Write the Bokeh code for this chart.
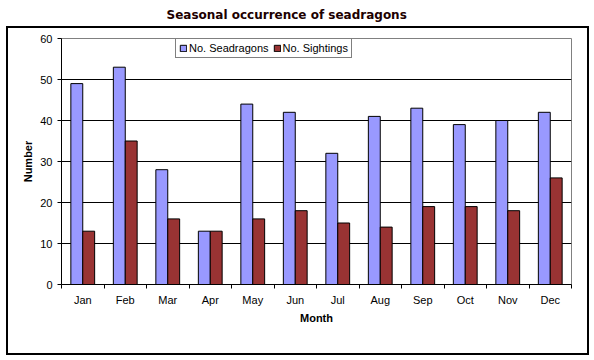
import numpy as np
from bokeh.plotting import figure
from bokeh.models import FixedTicker, Range1d, Legend, LegendItem
from bokeh.embed import file_html
from bokeh.resources import INLINE

months = ["Jan", "Feb", "Mar", "Apr", "May", "Jun", "Jul", "Aug", "Sep", "Oct", "Nov", "Dec"]
seadragons = [49, 53, 28, 13, 44, 42, 32, 41, 43, 39, 40, 42]
sightings = [13, 35, 16, 13, 16, 18, 15, 14, 19, 19, 18, 26]
y_ticks = [0, 10, 20, 30, 40, 50, 60]
grid_ticks = [10, 20, 30, 40, 50]
title_text = "Seasonal occurrence of seadragons"

n = len(months)
idx = np.arange(n)
bw = 0.28

p = figure(frame_width=510, frame_height=246, output_backend="svg", toolbar_location=None,
           x_range=Range1d(0, n), y_range=Range1d(0, 60),
           min_border_left=61, min_border_right=19, min_border_top=38, min_border_bottom=72,
           background_fill_color="white", border_fill_color="white", border_fill_alpha=0,
           title=title_text + "\n")

# outer chart-area frame drawn as CSS background behind the transparent canvas border
p.styles = {
    "background-color": "white",
    "background-image": ("linear-gradient(black, black), linear-gradient(black, black), "
                         "linear-gradient(black, black), linear-gradient(black, black)"),
    "background-repeat": "no-repeat",
    "background-size": "583px 2px, 583px 2px, 2px 329px, 2px 329px",
    "background-position": "6px 26px, 6px 353px, 6px 26px, 587px 26px",
}

p.title.align = "left"
p.title.offset = 105
p.title.text_line_height = 0.8
p.title.text_font = "DejaVu Sans"
p.title.text_font_size = "12px"
p.title.text_font_style = "bold"
p.title.text_color = "#200000"

r1 = p.vbar(x=idx + 0.5 - bw / 2, top=seadragons, width=bw, fill_color="#9999FF",
            line_color="black", line_width=1)
r2 = p.vbar(x=idx + 0.5 + bw / 2, top=sightings, width=bw, fill_color="#993333",
            line_color="black", line_width=1)

xa = p.xaxis[0]
xa.ticker = FixedTicker(ticks=list(idx + 0.5), minor_ticks=list(range(n + 1)))
xa.major_label_overrides = {float(i + 0.5): m for i, m in enumerate(months)}
xa.major_tick_out = 0
xa.major_tick_in = 0
xa.minor_tick_out = 4
xa.minor_tick_in = 0
xa.minor_tick_line_color = "black"
xa.axis_line_color = "black"
xa.major_label_standoff = 5
xa.major_label_text_font = "Liberation Sans"
xa.major_label_text_font_size = "11px"
xa.major_label_text_color = "black"
xa.axis_label = "Month"
xa.axis_label_text_font = "Liberation Sans"
xa.axis_label_text_font_size = "11px"
xa.axis_label_text_font_style = "bold"
xa.axis_label_text_color = "black"
xa.axis_label_standoff = 3

ya = p.yaxis[0]
ya.ticker = FixedTicker(ticks=y_ticks)
ya.minor_tick_line_color = None
ya.major_tick_out = 4
ya.major_tick_in = 0
ya.major_tick_line_color = "black"
ya.axis_line_color = "black"
ya.major_label_standoff = 5
ya.major_label_text_font = "Liberation Sans"
ya.major_label_text_font_size = "11px"
ya.major_label_text_color = "black"
ya.axis_label = "Number"
ya.axis_label_text_font = "Liberation Sans"
ya.axis_label_text_font_size = "11px"
ya.axis_label_text_font_style = "bold"
ya.axis_label_text_color = "black"
ya.axis_label_standoff = 3

p.xgrid.grid_line_color = None
p.ygrid.ticker = FixedTicker(ticks=grid_ticks)
p.ygrid.grid_line_color = "black"
p.ygrid.grid_line_width = 1

p.outline_line_color = "#808080"
p.outline_line_width = 1

legend = Legend(items=[LegendItem(label="No. Seadragons", renderers=[r1]),
                       LegendItem(label="No. Sightings", renderers=[r2])],
                orientation="horizontal", location=(114, 226),
                glyph_width=8, glyph_height=8, label_height=12, label_standoff=2,
                spacing=4, padding=3, margin=0,
                label_text_font="Liberation Sans", label_text_font_size="11px",
                label_text_color="black",
                border_line_color="black", border_line_width=1,
                background_fill_color="white", background_fill_alpha=1)
p.add_layout(legend, "center")

open("out.html", "w").write(file_html(p, INLINE))
